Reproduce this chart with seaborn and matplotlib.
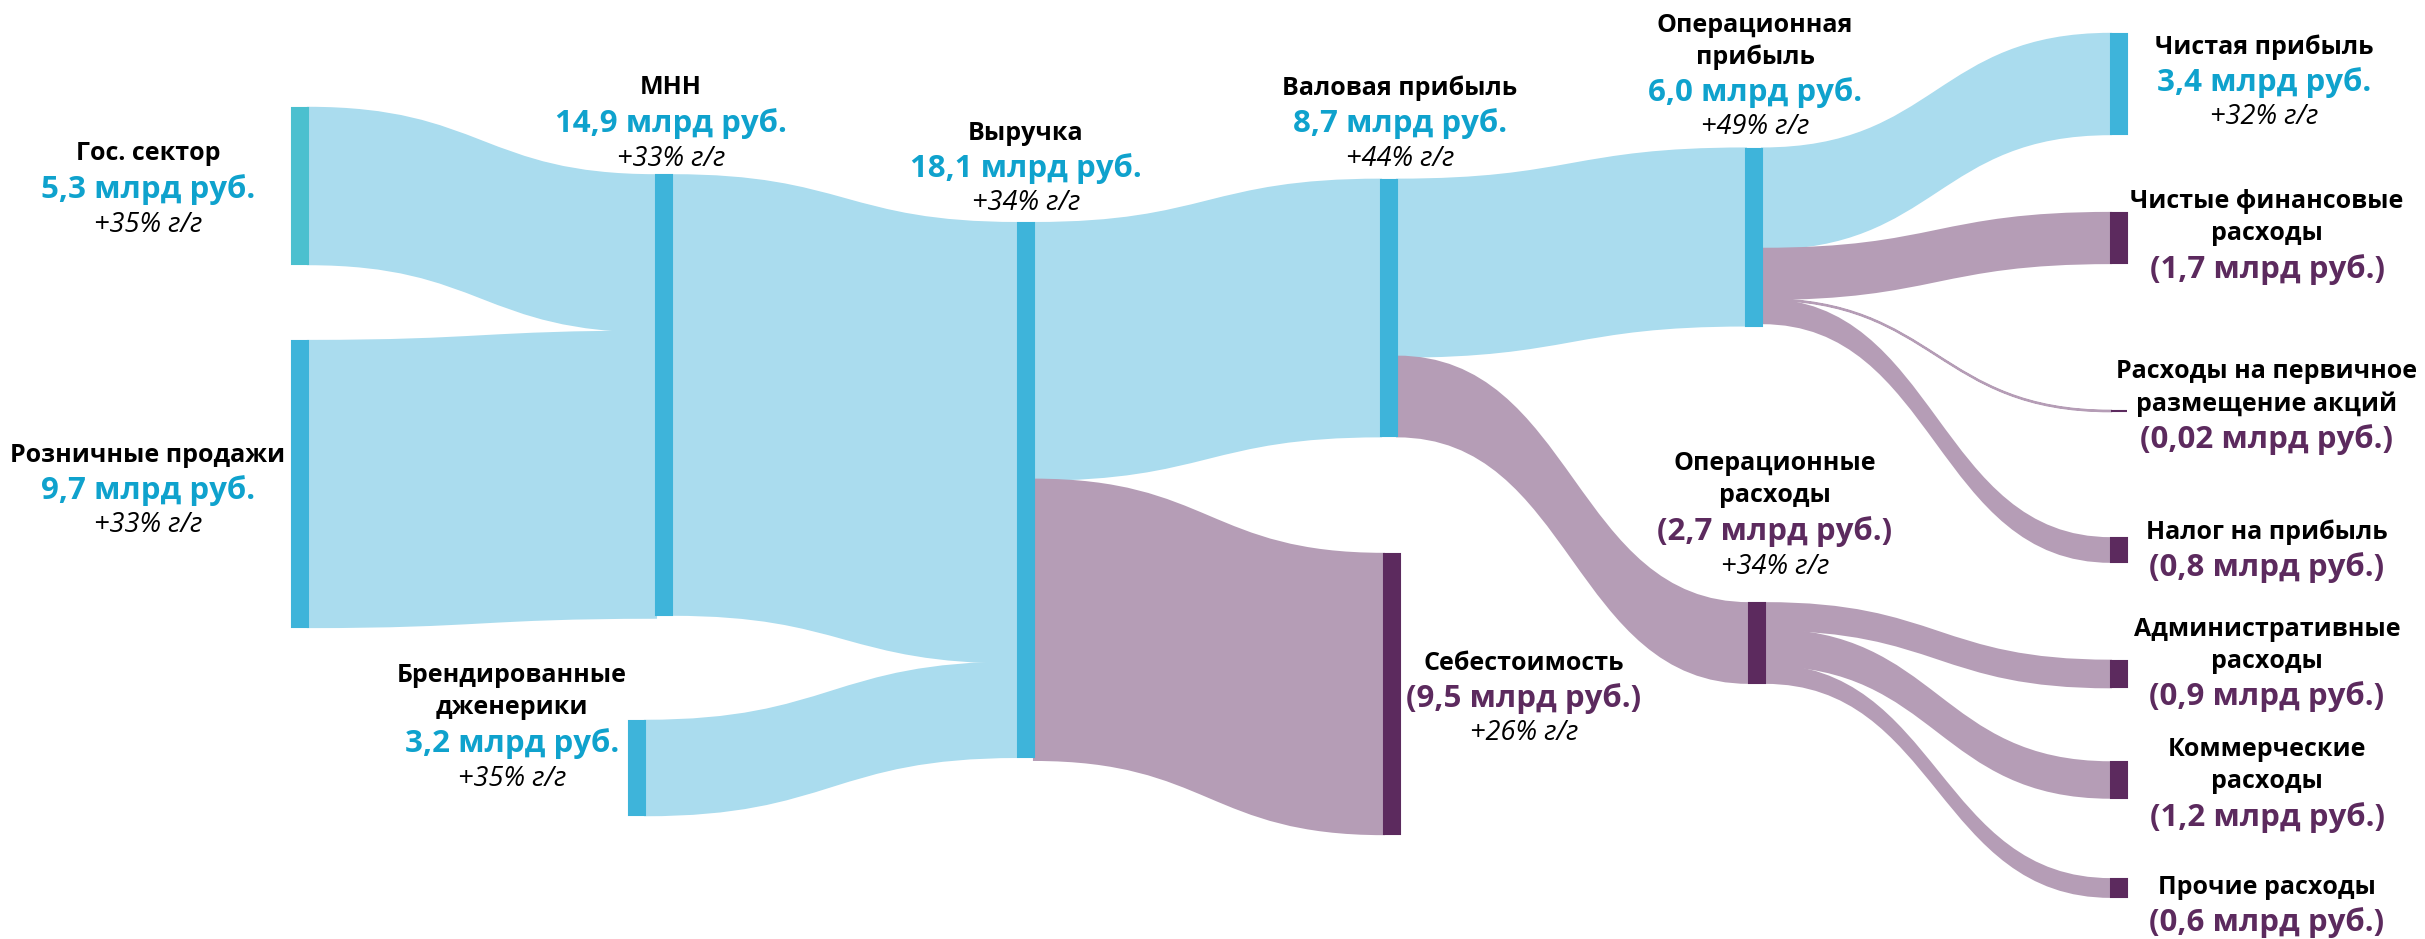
import matplotlib
matplotlib.use("Agg")
import matplotlib.pyplot as plt
from matplotlib.path import Path
from matplotlib.patches import PathPatch, Rectangle
import seaborn as sns

# ---------------- data ----------------
node_names = [
    "Гос. сектор", "Розничные продажи", "МНН", "Брендированные\nдженерики",
    "Выручка", "Валовая прибыль", "Себестоимость", "Операционная\nприбыль",
    "Операционные\nрасходы", "Чистая прибыль", "Чистые финансовые\nрасходы",
    "Расходы на первичное\nразмещение акций", "Налог на прибыль",
    "Административные\nрасходы", "Коммерческие\nрасходы", "Прочие расходы",
]
node_values = [5.3, 9.7, 14.9, 3.2, 18.1, 8.7, 9.5, 6.0, 2.7, 3.4, 1.7, 0.02, 0.8, 0.9, 1.2, 0.6]
node_growth = [35, 33, 33, 35, 34, 44, 26, 49, 34, 32, None, None, None, None, None, None]
node_is_expense = [False, False, False, False, False, False, True, False, True,
                   False, True, True, True, True, True, True]

link_source = [0, 1, 2, 3, 4, 4, 5, 5, 7, 7, 7, 7, 8, 8, 8]
link_target = [2, 2, 4, 4, 5, 6, 7, 8, 9, 10, 11, 12, 13, 14, 15]
link_values = [5.3, 9.7, 14.9, 3.2, 8.7, 9.5, 6.0, 2.7, 3.4, 1.7, 0.02, 0.8, 0.9, 1.2, 0.6]

# ---------------- layout (canvas pixels) ----------------
W, H = 2425, 939
SCALE = 29.5          # px per 1 млрд руб.
BAR_W = 16

node_x = [292, 292, 656, 629, 1018, 1381, 1384, 1746, 1749,
          2111, 2111, 2111, 2111, 2111, 2111, 2111]
node_cy = [186, 484, 395, 768, 490, 308, 694, 237, 643,
           84, 238, 411, 550, 674, 780, 888]

label_x = [148, 148, 671, 512, 1026, 1400, 1524, 1755, 1775,
           2264, 2267, 2267, 2267, 2267, 2267, 2267]
label_y = [154, 455, 88, 676, 133, 88, 663, 25, 464,
           47, 202, 372, 532, 629, 750, 887]

# ---------------- style ----------------
BLUE_LINK = "#aadcee"
BLUE_NODE = "#3eb4da"
TEAL_NODE = "#4bc0cf"
BLUE_TEXT = "#0fa2cd"
PURPLE_LINK = "#b59db6"
PURPLE_NODE = "#5c2a5e"

sns.set_theme(style="white")
plt.rcParams["font.family"] = ["Open Sans", "DejaVu Sans"]

fig = plt.figure(figsize=(W / 100, H / 100), dpi=100)
ax = fig.add_axes([0, 0, 1, 1])
ax.set_xlim(0, W)
ax.set_ylim(H, 0)
ax.axis("off")

node_top = [cy - v * SCALE / 2 for cy, v in zip(node_cy, node_values)]
out_off = [0.0] * len(node_names)
in_off = [0.0] * len(node_names)

# flows
for s, t, v in zip(link_source, link_target, link_values):
    h = v * SCALE
    x0 = node_x[s] + BAR_W
    x1 = node_x[t]
    y0 = node_top[s] + out_off[s]
    y1 = node_top[t] + in_off[t]
    out_off[s] += h
    in_off[t] += h
    xm = (x0 + x1) / 2
    verts = [
        (x0, y0), (xm, y0), (xm, y1), (x1, y1),
        (x1, y1 + h),
        (xm, y1 + h), (xm, y0 + h), (x0, y0 + h),
        (x0, y0),
    ]
    codes = [Path.MOVETO, Path.CURVE4, Path.CURVE4, Path.CURVE4,
             Path.LINETO,
             Path.CURVE4, Path.CURVE4, Path.CURVE4,
             Path.CLOSEPOLY]
    col = PURPLE_LINK if node_is_expense[t] else BLUE_LINK
    ax.add_patch(PathPatch(Path(verts, codes), facecolor=col, edgecolor=col,
                           linewidth=1.5, zorder=1))

# nodes
for i, v in enumerate(node_values):
    if node_is_expense[i]:
        col = PURPLE_NODE
    elif i == 0:
        col = TEAL_NODE
    else:
        col = BLUE_NODE
    ax.add_patch(Rectangle((node_x[i], node_top[i]), BAR_W, v * SCALE,
                           facecolor=col, edgecolor=col, linewidth=1.5, zorder=2))


def fmt_value(v, expense):
    s = (f"{v:.2f}" if v < 0.1 else f"{v:.1f}").replace(".", ",")
    s = f"{s} млрд руб."
    return f"({s})" if expense else s


# labels
for i, name in enumerate(node_names):
    x, y = label_x[i], label_y[i]
    for line in name.split("\n"):
        ax.text(x, y, line, ha="center", va="center", fontsize=18,
                fontweight="bold", color="black", zorder=3)
        y += 32
    y += 3.5
    ax.text(x, y, fmt_value(node_values[i], node_is_expense[i]), ha="center",
            va="center", fontsize=22.5, fontweight="bold",
            color=PURPLE_NODE if node_is_expense[i] else BLUE_TEXT, zorder=3)
    if node_growth[i] is not None:
        y += 35
        ax.text(x, y, f"+{node_growth[i]}% г/г", ha="center", va="center",
                fontsize=19.5, fontstyle="italic", color="black", zorder=3)

fig.savefig("out.png", dpi=100, facecolor="white")
